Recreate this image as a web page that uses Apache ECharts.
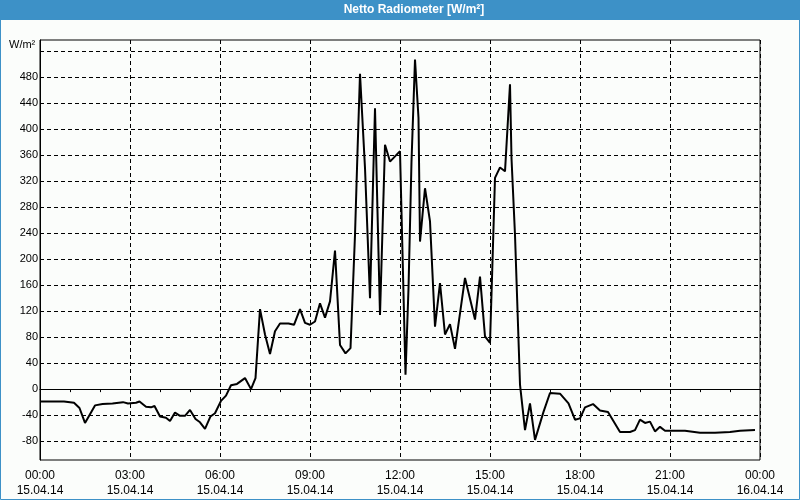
<!DOCTYPE html>
<html>
<head>
<meta charset="utf-8">
<script src="https://cdn.jsdelivr.net/npm/echarts@6/dist/echarts.min.js"></script>
<style>
html,body{margin:0;padding:0;background:#fbfdfb;}
#chart{width:800px;height:500px;}
</style>
</head>
<body>
<div id="chart"></div>
<script>
// time of each reading, minutes after 15.04.14 00:00
var minutes = [0,48,68,79,90,110,125,145,166,176,192,199,212,222,229,240,252,260,270,280,290,300,311,320,330,341,350,362,372,382,394,410,422,431,440,450,460,470,480,497,508,520,530,540,550,560,570,580,590,600,611,621,630,635,640,644,650,660,670,680,690,700,720,731,737,743,750,757,760,770,780,790,800,810,820,830,850,870,880,890,900,904,910,920,930,940,943,950,960,970,980,990,1007,1020,1040,1057,1070,1080,1090,1106,1120,1136,1160,1180,1190,1200,1210,1220,1230,1240,1250,1260,1290,1320,1350,1380,1400,1430];
// net radiation, W/m²
var radiation = [-19,-19,-21,-29,-52,-25,-23,-22,-20,-22,-21,-19,-27,-28,-26,-42,-44,-49,-36,-41,-41,-32,-46,-51,-61,-42,-37,-18,-10,6,8,17,0,17,123,84,54,89,101,101,99,123,102,99,104,132,110,135,213,68,55,63,237,365,485,427,340,140,432,114,376,350,366,22,155,350,507,417,227,309,258,96,163,84,100,62,171,107,173,81,71,171,325,341,335,469,355,237,7,-63,-22,-78,-35,-6,-7,-22,-47,-45,-28,-23,-33,-35,-66,-66,-63,-47,-52,-50,-65,-58,-64,-64,-64,-67,-67,-66,-64,-63];
var xTickLabels = ['00:00\n15.04.14','03:00\n15.04.14','06:00\n15.04.14','09:00\n15.04.14','12:00\n15.04.14','15:00\n15.04.14','18:00\n15.04.14','21:00\n15.04.14','00:00\n16.04.14'];
var yTickValues = [-80,-40,0,40,80,120,160,200,240,280,320,360,400,440,480,520];
var yLabelValues = [-80,-40,0,40,80,120,160,200,240,280,320,360,400,440,480];
var titleText = 'Netto Radiometer [W/m²]';
var unitText = 'W/m²';

var data = minutes.map(function(m,i){return [m, radiation[i]];});
var FONT = "'Liberation Sans', Arial, sans-serif";
var NARROW = "'Liberation Sans Narrow', 'Liberation Sans', Arial, sans-serif";
var dash = {color:'#000', width:1, type:[4,3]};

var chart = echarts.init(document.getElementById('chart'), null, {renderer:'canvas'});
chart.setOption({
  animation:false,
  backgroundColor:'#fbfdfb',
  grid:{left:40,right:40,top:40,bottom:40,show:true,borderColor:'#000',borderWidth:1,backgroundColor:'transparent'},
  graphic:[
    {type:'rect',shape:{x:0,y:0,width:800,height:20},style:{fill:'#3d91c7'},z:-1},
    {type:'rect',shape:{x:0.5,y:0.5,width:799,height:499},style:{fill:null,stroke:'#3d91c7',lineWidth:1},z:-1},
    {type:'text',x:414,y:10,style:{text:titleText,fill:'#fff',font:"bold 12px "+FONT,align:'center',verticalAlign:'middle'}},
    {type:'text',x:9,y:45,style:{text:unitText,fill:'#000',font:"11px "+FONT,align:'left',verticalAlign:'middle'}}
  ],
  xAxis:{
    type:'value',min:0,max:1440,interval:180,
    axisLine:{show:true,lineStyle:{color:'#000',width:1}},
    axisTick:{show:true,length:3,lineStyle:{color:'#000'}},
    minorTick:{show:true,splitNumber:3,length:3,lineStyle:{color:'#000'}},
    splitLine:{show:true,lineStyle:dash},
    axisLabel:{color:'#000',fontFamily:NARROW,fontSize:12,lineHeight:15,margin:8,
      formatter:function(v){return xTickLabels[Math.round(v/180)];}}
  },
  yAxis:{
    type:'value',min:-109,max:537,
    axisLine:{show:true,lineStyle:{color:'#000',width:1}},
    axisTick:{show:false,customValues:yTickValues},
    splitLine:{show:true,lineStyle:dash},
    axisLabel:{color:'#000',fontFamily:FONT,fontSize:11,margin:2,customValues:yLabelValues}
  },
  series:[{
    type:'line',data:data,showSymbol:false,symbol:'none',
    lineStyle:{color:'#000',width:2},
    itemStyle:{color:'#000'}
  }]
});
</script>
</body>
</html>
